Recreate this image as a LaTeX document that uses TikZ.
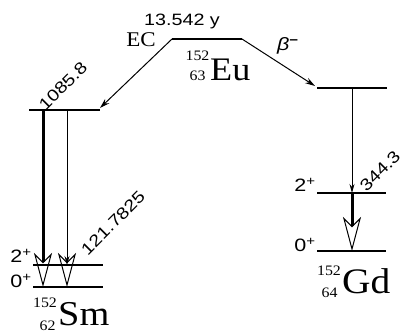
\documentclass[tikz,border=0pt]{standalone}
\usepackage{fontspec}
\setmainfont{Liberation Serif}[FakeStretch=1.1]
\newfontfamily\labelfont{Liberation Sans}[FakeStretch=1.2]
\usetikzlibrary{arrows.meta}

\begin{document}
\begin{tikzpicture}[x=1bp, y=-1bp,
    level/.style={line width=1.4bp},
    feed/.style={line width=1bp, -{Stealth[length=10bp, width=6bp]}},
    gamma/.style={line width=0.9bp, -{Stealth[length=9bp, width=5bp]}},
    intense/.style={line width=3bp},
    hollow/.style={-{Stealth[open, length=34bp, width=18bp, inset=9bp, line width=1bp]}},
    energy/.style={font=\labelfont\fontsize{16.5}{16.5}\selectfont, rotate=45},
    spin/.style={font=\labelfont\fontsize{18}{18}\selectfont},
    element/.style={font=\fontsize{35}{35}\selectfont, anchor=base west, inner sep=0pt},
    nucleon/.style={font=\fontsize{14.5}{14.5}\selectfont, anchor=base, inner sep=0pt}
]
  \useasboundingbox (0,0) rectangle (407,332);

  % Levels
  \coordinate (eu-l) at (172,39);   \coordinate (eu-r) at (242,39);
  \coordinate (sm3-l) at (29,110);  \coordinate (sm3-r) at (100,110);
  \coordinate (sm2-l) at (33,265);  \coordinate (sm2-r) at (103,265);
  \coordinate (sm0-l) at (33,287);  \coordinate (sm0-r) at (103,287);
  \coordinate (gd1-l) at (317,88);  \coordinate (gd1-r) at (387,88);
  \coordinate (gd2-l) at (317,193); \coordinate (gd2-r) at (386,193);
  \coordinate (gd0-l) at (317,251); \coordinate (gd0-r) at (386,251);
  \foreach \lv in {eu,sm3,sm2,sm0,gd1,gd2,gd0}
    \draw[level] (\lv-l) -- (\lv-r);

  % Decay branches
  \coordinate (ec-end) at (100,108);
  \coordinate (beta-end) at (315,86);
  \draw[feed] (eu-l) -- (ec-end);
  \draw[feed] (eu-r) -- (beta-end);

  % Gamma transitions, Sm
  \coordinate (sma-top) at (43,110);  \coordinate (sma-bot) at (43,287);
  \coordinate (smb-top) at (67,110);  \coordinate (smb-mid) at (67,265);
  \coordinate (smb-head) at (67,255); \coordinate (smb-bot) at (67,287);
  \draw[intense, hollow] (sma-top) -- (sma-bot);
  \draw[gamma] (smb-top) -- (smb-mid);
  \draw[hollow] (smb-head) -- (smb-bot);

  % Gamma transitions, Gd
  \coordinate (gda-top) at (352,88);  \coordinate (gda-mid) at (352,193);
  \coordinate (gda-bot) at (352,251);
  \draw[gamma] (gda-top) -- (gda-mid);
  \draw[intense, hollow] (gda-mid) -- (gda-bot);

  % Labels
  \node[font=\labelfont\fontsize{16.5}{16.5}\selectfont] (halflife) at (182,21) {13.542 y};
  \node[font=\fontsize{21}{21}\selectfont] (ec) at (141,40) {EC};
  \node[font=\labelfont\itshape\fontsize{18}{18}\selectfont] (beta) at (288,46) {β\textsuperscript{\upshape\bfseries −}};

  \node[element, font=\fontsize{33}{33}\selectfont] (eu) at (210,80) {Eu};
  \node[nucleon] (eu-a) at (197.5,60) {152};
  \node[nucleon] (eu-z) at (197.5,80) {63};
  \node[element] (sm) at (58,325) {Sm};
  \node[nucleon] (sm-a) at (45,307) {152};
  \node[nucleon] (sm-z) at (47.5,330) {62};
  \node[element, font=\fontsize{36}{36}\selectfont] (gd) at (342,293) {Gd};
  \node[nucleon] (gd-a) at (329,275) {152};
  \node[nucleon] (gd-z) at (329.5,297) {64};

  \node[energy] (e1085) at (63,86) {1085.8};
  \node[energy] (e121) at (113,223) {121.7825};
  \node[energy] (e344) at (380,171) {344.3};

  \node[spin] (sm-2) at (21,256) {2\textsuperscript{+}};
  \node[spin] (sm-0) at (21,281) {0\textsuperscript{+}};
  \node[spin] (gd-2) at (305,185) {2\textsuperscript{+}};
  \node[spin] (gd-0) at (305,245) {0\textsuperscript{+}};
\end{tikzpicture}
\end{document}
